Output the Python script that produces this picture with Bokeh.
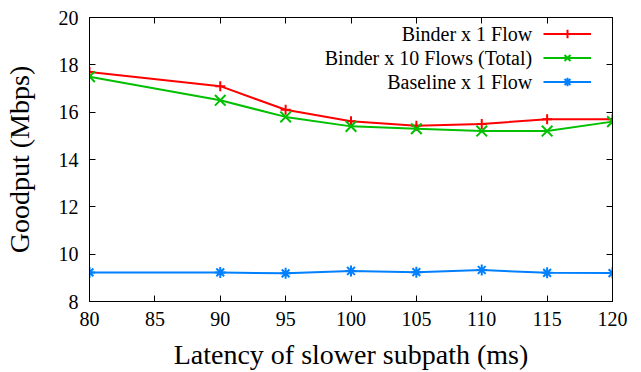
from bokeh.plotting import figure
from bokeh.models import Range1d, FixedTicker, LinearAxis, Legend, LegendItem, Label
from bokeh.embed import file_html
from bokeh.resources import INLINE
from bokeh.core.properties import value

latency = [80, 90, 95, 100, 105, 110, 115, 120]
binder_1 = [17.7, 17.1, 16.1, 15.62, 15.43, 15.5, 15.7, 15.7]
binder_10 = [17.5, 16.5, 15.8, 15.4, 15.3, 15.2, 15.2, 15.6]
baseline_1 = [9.23, 9.23, 9.19, 9.29, 9.24, 9.33, 9.21, 9.2]
series = [binder_1, binder_10, baseline_1]
series_names = ["Binder x 1 Flow", "Binder x 10 Flows (Total)", "Baseline x 1 Flow"]
colors = ["#FF0000", "#00C000", "#0080FF"]
markers = ["cross", "x", "asterisk"]
marker_sizes = [10, 15, 11]
x_ticks = [80, 85, 90, 95, 100, 105, 110, 115, 120]
y_ticks = [8, 10, 12, 14, 16, 18, 20]
x_label = "Latency of slower subpath (ms)"
y_label = "Goodput (Mbps)"

FONT = "Liberation Serif"

p = figure(width=641, height=372, output_backend="svg", toolbar_location=None,
           x_range=Range1d(80, 120), y_range=Range1d(8, 20),
           min_border_left=89, min_border_right=29, min_border_top=17, min_border_bottom=71,
           background_fill_color="white", border_fill_color="white")
p.grid.visible = False
p.outline_line_color = "black"
p.outline_line_width = 1

for ax, ticks in ((p.xaxis[0], x_ticks), (p.yaxis[0], y_ticks)):
    ax.ticker = FixedTicker(ticks=ticks)
    ax.minor_tick_line_color = None
    ax.major_tick_in = 6
    ax.major_tick_out = 0
    ax.major_tick_line_color = "black"
    ax.axis_line_color = "black"
    ax.major_label_text_font = FONT
    ax.major_label_text_font_size = "20px"
    ax.major_label_text_color = "black"
    ax.axis_label_text_font = FONT
    ax.axis_label_text_font_size = "28px"
    ax.axis_label_text_font_style = "normal"
    ax.axis_label_text_color = "black"

p.xaxis.axis_label = x_label
p.yaxis.axis_label = y_label
p.xaxis.major_label_standoff = 10
p.xaxis.axis_label_standoff = 10
p.yaxis.major_label_standoff = 11
p.yaxis.axis_label_standoff = 21

for loc, ticks in (("above", x_ticks), ("right", y_ticks)):
    ax = LinearAxis(ticker=FixedTicker(ticks=ticks), major_tick_in=6, major_tick_out=0,
                    minor_tick_line_color=None, major_label_text_font_size="1px",
                    major_label_text_color=None, major_label_text_alpha=0,
                    major_label_standoff=0, axis_line_color="black",
                    major_tick_line_color="black")
    p.add_layout(ax, loc)

renderers = []
for ys, c, m, s in zip(series, colors, markers, marker_sizes):
    r1 = p.line(latency, ys, line_color=c, line_width=2)
    r2 = p.scatter(latency, ys, marker=m, size=s, line_color=c, line_width=2, fill_color=c)
    renderers.append([r1, r2])

items = [LegendItem(label=value(" "), renderers=r) for r in renderers]
legend = Legend(items=items, location=(454, 209), padding=0, margin=0,
                glyph_width=48, glyph_height=21, spacing=3,
                label_width=0, label_standoff=0, label_height=0,
                label_text_font_size="1px", label_text_color=None, label_text_alpha=0,
                background_fill_alpha=0, border_line_alpha=0)
p.add_layout(legend)

row_y = [267.7, 243.7, 219.7]
for name, yy in zip(series_names, row_y):
    p.add_layout(Label(x=442.7, y=yy, x_units="screen", y_units="screen", text=name,
                       text_align="right", text_baseline="middle",
                       text_font=FONT, text_font_size="20px", text_color="black"))

open("out.html", "w").write(file_html(p, INLINE))
